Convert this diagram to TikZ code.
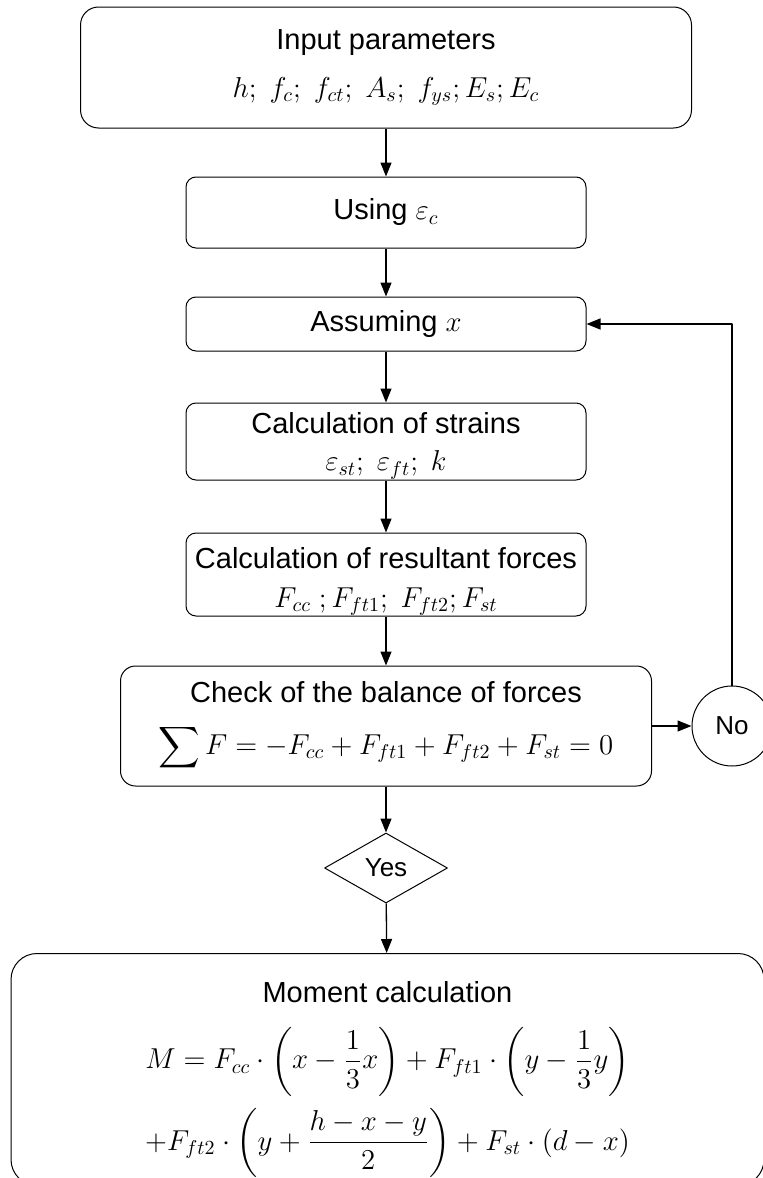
\documentclass[tikz,border=0pt]{standalone}
\usepackage{amsmath}
\usepackage{fontspec}
\setmainfont{Liberation Sans}
\usetikzlibrary{arrows.meta,shapes.geometric}
\begin{document}
\begin{tikzpicture}[x=0.5pt,y=-0.5pt,>={Triangle[length=7pt,width=5.5pt]},line join=round,
	font=\fontsize{14.5}{17.4}\selectfont,
	box/.style={draw,line width=0.5pt,rounded corners=5pt,align=center,inner sep=0pt,minimum width=200pt},
	flow/.style={->,line width=0.65pt}]
	\useasboundingbox (0,0) rectangle (762,1178);
	\node[box,rounded corners=9pt,minimum width=305.5pt,minimum height=60.5pt] (input) at (386,67.5) {Input parameters\\[6.8pt]$h;\ f_c;\ f_{ct};\ A_s;\ f_{ys};E_s;E_c$};
	\node[box,minimum height=35.5pt] (using) at (386,212.5) {Using $\varepsilon_c$};
	\node[box,minimum height=27pt] (assume) at (386,324) {Assuming $x$};
	\node[box,minimum height=38.5pt] (strains) at (386,441.5) {\rule{0pt}{15pt}Calculation of strains\\[1.1pt]$\varepsilon_{st};\ \varepsilon_{ft};\ k$};
	\node[box,minimum height=41.5pt] (forces) at (386,574.5) {\rule{0pt}{17.6pt}Calculation of resultant forces\\[1.8pt]$F_{cc}\ ;F_{ft1};\ F_{ft2};F_{st}$};
	\node[box,rounded corners=7.5pt,minimum width=265.5pt,minimum height=60pt] (check) at (386,726) {Check of the balance of forces\\[8.6pt]$\displaystyle\sum F=-F_{cc}+F_{ft1}+F_{ft2}+F_{st}=0$};
	\node[draw,circle,line width=0.5pt,minimum size=40pt,inner sep=0pt,font=\fontsize{13}{15}\selectfont] (no) at (732,726) {No};
	\node[draw,diamond,line width=0.5pt,aspect=1.76,minimum width=61.5pt,minimum height=35pt,inner sep=0pt,font=\fontsize{13}{15}\selectfont] (yes) at (386,868) {Yes};
	\node[box,anchor=north,rounded corners=13pt,minimum width=376.5pt,minimum height=116pt] (moment) at (387.5,953) {\rule{0pt}{20.6pt}Moment calculation\\[11pt]
		$M=F_{cc}\cdot\biggl(x-\dfrac{1}{3}x\biggr)+F_{ft1}\cdot\biggl(y-\dfrac{1}{3}y\biggr)$\\[5pt]
		$+F_{ft2}\cdot\biggl(y+\dfrac{h-x-y}{2}\biggr)+F_{st}\cdot(d-x)$};
	\draw[flow] (input)--(using);
	\draw[flow] (using)--(assume);
	\draw[flow] (assume)--(strains);
	\draw[flow] (strains)--(forces);
	\draw[flow] (forces)--(check);
	\draw[flow] (check)--(yes);
	\draw[flow] (yes)--(moment);
	\draw[flow] (check)--(no);
	\draw[flow] (no.north) |- (assume.east);
\end{tikzpicture}
\end{document}
